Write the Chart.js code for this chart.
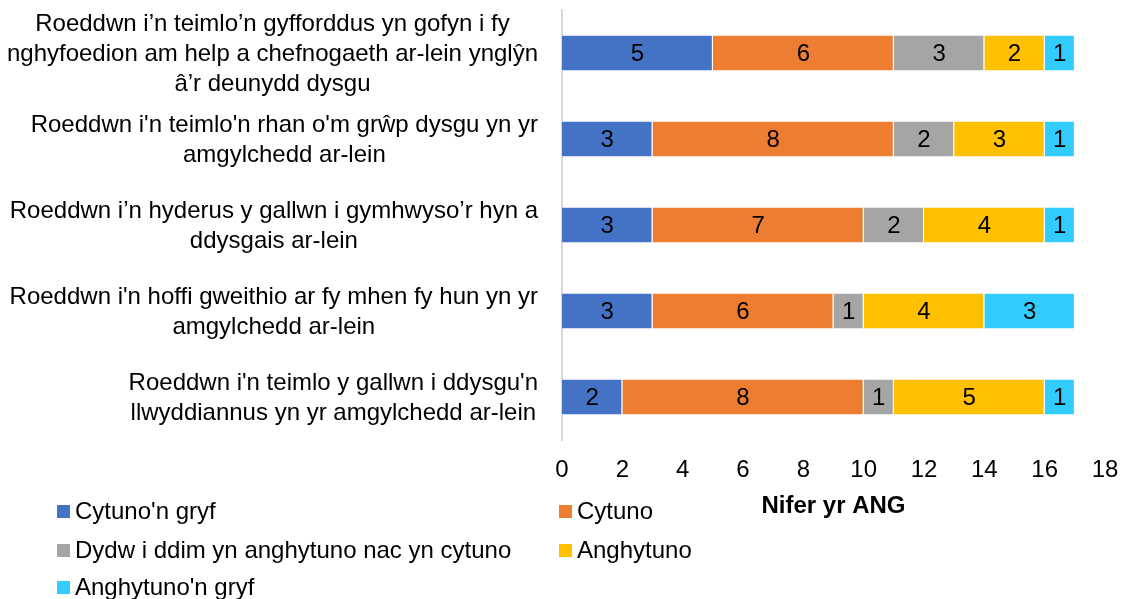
<!DOCTYPE html>
<html>
<head>
<meta charset="utf-8">
<script src="https://cdn.jsdelivr.net/npm/chart.js@4/dist/chart.umd.min.js"></script>
<style>
  body { margin: 0; background: #fff; }
  #wrap { position: relative; width: 1123px; height: 599px; }
  #legend { position: absolute; left: 0; top: 0; font-family: "Liberation Sans", Arial, sans-serif; font-size: 24px; color: #000; }
  .item { position: absolute; white-space: nowrap; line-height: 28px; }
  .item span.box { display: inline-block; width: 13px; height: 13px; margin-right: 5px; vertical-align: 1px; }
</style>
</head>
<body>
<div id="wrap">
  <canvas id="bar-chart" width="1123" height="599"></canvas>
  <div id="legend"></div>
</div>
<script>
// statements, top to bottom
const statements = [
  ["Roeddwn i’n teimlo’n gyfforddus yn gofyn i fy", "nghyfoedion am help a chefnogaeth ar-lein ynglŷn", "â’r deunydd dysgu"],
  ["Roeddwn i'n teimlo'n rhan o'm grŵp dysgu yn yr", "amgylchedd ar-lein"],
  ["Roeddwn i’n hyderus y gallwn i gymhwyso’r hyn a", "ddysgais ar-lein"],
  ["Roeddwn i'n hoffi gweithio ar fy mhen fy hun yn yr", "amgylchedd ar-lein"],
  ["Roeddwn i'n teimlo y gallwn i ddysgu'n", "llwyddiannus yn yr amgylchedd ar-lein"]
];

const seriesNames = [
  "Cytuno'n gryf",
  "Cytuno",
  "Dydw i ddim yn anghytuno nac yn cytuno",
  "Anghytuno",
  "Anghytuno'n gryf"
];

const cytunoGryf = [5, 3, 3, 3, 2];
const cytuno = [6, 8, 7, 6, 8];
const niwtral = [3, 2, 2, 1, 1];
const anghytuno = [2, 3, 4, 4, 5];
const anghytunoGryf = [1, 1, 1, 3, 1];

const xTicks = [0, 2, 4, 6, 8, 10, 12, 14, 16, 18];
const axisTitle = "Nifer yr ANG";

const colours = ["#4472C4", "#ED7D31", "#A5A5A5", "#FFC000", "#33CCFF"];
const FONT = '"Liberation Sans", Arial, sans-serif';

const allValues = [cytunoGryf, cytuno, niwtral, anghytuno, anghytunoGryf];

const info = {
  labels: statements,
  datasets: allValues.map((vals, i) => ({
    label: seriesNames[i],
    data: vals,
    backgroundColor: colours[i],
    borderColor: "#ffffff",
    borderWidth: { right: 1 },
    borderSkipped: false,
    barPercentage: 0.407,
    categoryPercentage: 1
  }))
};

// value labels in the middle of each segment
const valueLabels = {
  id: "valueLabels",
  afterDatasetsDraw(chart) {
    const ctx = chart.ctx;
    ctx.save();
    ctx.font = "24px " + FONT;
    ctx.fillStyle = "#000";
    ctx.textAlign = "center";
    ctx.textBaseline = "middle";
    chart.data.datasets.forEach((ds, i) => {
      chart.getDatasetMeta(i).data.forEach((bar, j) => {
        const cx = (bar.x + bar.base) / 2;
        ctx.fillText(String(ds.data[j]), cx, bar.y + 1);
      });
    });
    ctx.restore();
  }
};

// category labels: each line centred, block right-aligned near the axis
const categoryLabels = {
  id: "categoryLabels",
  afterDraw(chart) {
    const ctx = chart.ctx;
    const yScale = chart.scales.y;
    ctx.save();
    ctx.font = "24px " + FONT;
    ctx.fillStyle = "#000";
    ctx.textAlign = "center";
    ctx.textBaseline = "middle";
    const right = 538;
    const lh = 30;
    statements.forEach((lines, i) => {
      const w = Math.max(...lines.map(l => ctx.measureText(l).width));
      const cx = right - w / 2;
      const cy = yScale.getPixelForValue(i);
      lines.forEach((l, k) => {
        ctx.fillText(l, cx, cy + (k - (lines.length - 1) / 2) * lh + 1);
      });
    });
    ctx.restore();
  }
};

const options = {
  indexAxis: "y",
  responsive: false,
  animation: false,
  layout: { padding: { left: 0, right: 18, top: 10, bottom: 78 } },
  scales: {
    x: {
      stacked: true,
      min: 0,
      max: 18,
      afterBuildTicks: (scale) => { scale.ticks = xTicks.map(v => ({ value: v })); },
      afterFit: (scale) => {
        scale.height = 81;
        scale.paddingRight = 0;
      },
      ticks: { color: "#000", font: { family: FONT, size: 24 }, padding: 16, maxRotation: 0 },
      grid: { display: false, drawTicks: false },
      border: { display: false },
      title: {
        display: true,
        text: axisTitle,
        color: "#000",
        font: { family: FONT, size: 24, weight: "bold" },
        padding: { top: 7, bottom: 0 }
      }
    },
    y: {
      stacked: true,
      ticks: { display: false },
      grid: { display: false, drawTicks: false },
      border: { display: true, color: "#D9D9D9", width: 2 },
      afterFit: (scale) => { scale.width = 562; }
    }
  },
  plugins: {
    legend: { display: false },
    tooltip: { enabled: false }
  }
};

new Chart(document.getElementById("bar-chart"), {
  type: "bar",
  data: info,
  options,
  plugins: [valueLabels, categoryLabels]
});

// legend, two columns under the chart
const legendPos = [[57, 497], [559, 497], [57, 536], [559, 536], [57, 573]];
const legend = document.getElementById("legend");
seriesNames.forEach((name, i) => {
  const d = document.createElement("div");
  d.className = "item";
  d.style.left = legendPos[i][0] + "px";
  d.style.top = legendPos[i][1] + "px";
  d.innerHTML = '<span class="box" style="background:' + colours[i] + '"></span>';
  d.appendChild(document.createTextNode(name));
  legend.appendChild(d);
});
</script>
</body>
</html>
